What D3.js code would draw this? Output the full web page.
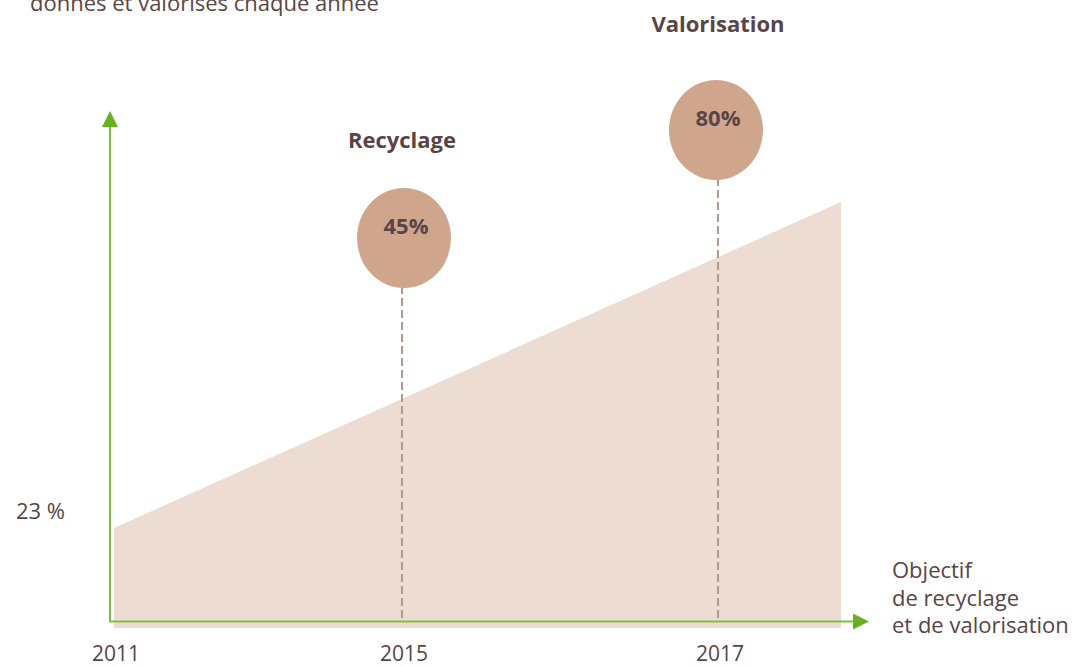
<!DOCTYPE html>
<html>
<head>
<meta charset="utf-8">
<script src="https://cdn.jsdelivr.net/npm/d3@7"></script>
<style>
  body { margin: 0; background: #fff; }
  text { font-family: "Open Sans", "Noto Sans", sans-serif; fill: #584646; }
</style>
</head>
<body>
<div id="chart"></div>
<script>
// data
const tickYears = [2011, 2015, 2017];
const areaYears = [2011, 2018];
const areaValues = [23, 98];
const targetLabels = ["Recyclage", "Valorisation"];
const targetYears = [2015, 2017];
const targetValues = [45, 80];
const startLabel = "23 %";
const axisLabel = ["Objectif", "de recyclage", "et de valorisation"];
const topText = "donnés et valorisés chaque année";

const w = 1081, h = 667;
const svg = d3.select("#chart").append("svg")
    .attr("width", w)
    .attr("height", h);

// scales
const x = d3.scaleLinear()
    .domain([2011, 2015, 2017, 2018])
    .range([114, 402, 718, 841]);
const y = d3.scaleLinear().domain([0, 23]).range([628, 528]);
// bubbles and their titles sit on their own vertical scales
const yb = d3.scaleLinear().domain([45, 80]).range([238, 130]);
const yt = d3.scaleLinear().domain([45, 80]).range([148, 32]);

const green = "#6ab023";
const axisY = 621.5, axisX = 110;

// area
const areaData = areaYears.map((yr, i) => ({year: yr, value: areaValues[i]}));
svg.append("path")
    .datum(areaData)
    .attr("fill", "#ecdcd2")
    .attr("d", d3.area()
        .x(d => x(d.year))
        .y0(y(0))
        .y1(d => y(d.value)));

// axes
svg.append("line")
    .attr("x1", axisX).attr("y1", axisY)
    .attr("x2", axisX).attr("y2", 125)
    .attr("stroke", "#7cc142").attr("stroke-width", 2);
svg.append("path")
    .attr("d", `M${axisX - 8},127 L${axisX},111 L${axisX + 8},127 Z`)
    .attr("fill", green);

svg.append("line")
    .attr("x1", axisX - 1).attr("y1", axisY)
    .attr("x2", 855).attr("y2", axisY)
    .attr("stroke", "#7cc142").attr("stroke-width", 2);
svg.append("path")
    .attr("d", `M853,${axisY - 8} L869,${axisY} L853,${axisY + 8} Z`)
    .attr("fill", green);

// tick labels
svg.selectAll(".tick-label")
    .data(tickYears)
    .enter()
    .append("text")
    .attr("class", "tick-label")
    .attr("x", d => x(d) + 2)
    .attr("y", 661)
    .attr("text-anchor", "middle")
    .attr("font-size", 21)
    .text(d => d);

// targets
const targets = targetLabels.map((l, i) => ({label: l, year: targetYears[i], value: targetValues[i]}));

svg.selectAll(".drop")
    .data(targets)
    .enter()
    .append("line")
    .attr("class", "drop")
    .attr("x1", d => x(d.year)).attr("x2", d => x(d.year))
    .attr("y1", d => yb(d.value) + 48)
    .attr("y2", axisY - 1)
    .attr("stroke", "#b09a8c")
    .attr("stroke-width", 2)
    .attr("stroke-dasharray", "8,4");

svg.selectAll(".bubble")
    .data(targets)
    .enter()
    .append("ellipse")
    .attr("class", "bubble")
    .attr("cx", d => x(d.year) + (d.year === 2015 ? 2 : -2))
    .attr("cy", d => yb(d.value))
    .attr("rx", 47)
    .attr("ry", 50)
    .attr("fill", "#cfa68c");

svg.selectAll(".pct")
    .data(targets)
    .enter()
    .append("text")
    .attr("class", "pct")
    .attr("x", d => x(d.year) + (d.year === 2015 ? 4 : 0))
    .attr("y", d => yb(d.value) - 4)
    .attr("text-anchor", "middle")
    .attr("font-size", 22)
    .attr("font-weight", "bold")
    .text(d => d.value + "%");

svg.selectAll(".target-label")
    .data(targets)
    .enter()
    .append("text")
    .attr("class", "target-label")
    .attr("x", d => x(d.year))
    .attr("y", d => yt(d.value))
    .attr("text-anchor", "middle")
    .attr("font-size", 22)
    .attr("font-weight", "bold")
    .text(d => d.label);

// side labels
svg.append("text")
    .attr("x", 16).attr("y", 519)
    .attr("font-size", 22)
    .text(startLabel);

svg.append("text")
    .attr("x", 892).attr("y", 578)
    .attr("font-size", 22)
    .selectAll("tspan")
    .data(axisLabel)
    .enter()
    .append("tspan")
    .attr("x", 892)
    .attr("dy", (d, i) => i === 0 ? 0 : 27.5)
    .text(d => d);

// heading, cut off at the top edge as in the reference
svg.append("text")
    .attr("x", 30).attr("y", 11)
    .attr("font-size", 22)
    .text(topText);
</script>
</body>
</html>
